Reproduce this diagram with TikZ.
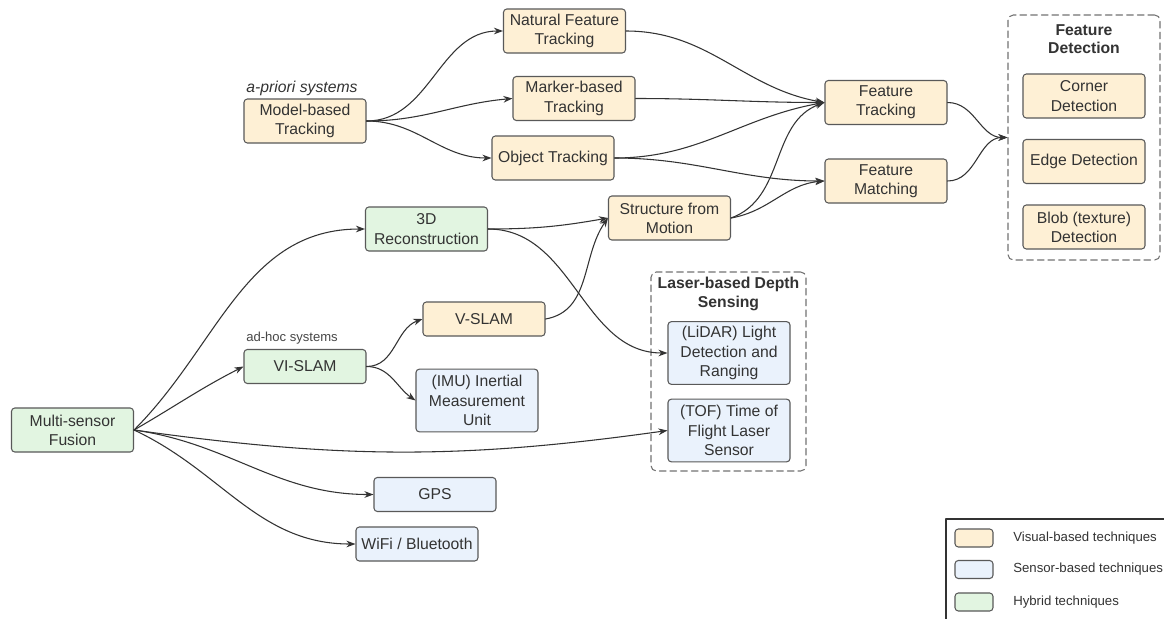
\documentclass[tikz,border=0pt]{standalone}
\usepackage{fontspec}
\setsansfont{Liberation Sans}
\usetikzlibrary{arrows.meta}

\definecolor{visfill}{HTML}{FEF0D5}
\definecolor{senfill}{HTML}{EAF2FC}
\definecolor{hybfill}{HTML}{E2F5E1}
\definecolor{boxline}{HTML}{595959}
\definecolor{inkgray}{HTML}{333333}

\begin{document}
\begin{tikzpicture}[
  x=0.75pt,
  y=-0.75pt,
  line cap=round,
  line join=round,
  >={Stealth[length=6.8,width=5]},
  box/.style={draw=boxline, line width=0.8, rounded corners=2.5, minimum width=91.5pt, minimum height=33pt, align=center, text=inkgray, font=\sffamily\fontsize{11.8}{14.4}\selectfont},
  visbox/.style={box, fill=visfill},
  senbox/.style={box, fill=senfill},
  hybbox/.style={box, fill=hybfill},
  low/.style={minimum height=25.5pt},
  tall/.style={minimum height=47pt},
  group/.style={draw=boxline!85, dash pattern=on 5pt off 3pt, line width=0.8, rounded corners=4},
  grouptitle/.style={font=\sffamily\bfseries\fontsize{11.8}{13.8}\selectfont, align=center, text=inkgray},
  note/.style={font=\sffamily\fontsize{11.8}{13}\selectfont, text=inkgray},
  link/.style={draw=inkgray, line width=0.8, ->},
  swatch/.style={draw=boxline, line width=0.8, rounded corners=2.5, minimum width=28.5pt, minimum height=13.5pt},
  legtext/.style={anchor=west, font=\sffamily\fontsize{9.9}{11}\selectfont, text=inkgray},
  every node/.style={inner sep=0}
]
\path[use as bounding box] (0,0) rectangle (1164,618);
\clip (0,0) rectangle (1164,618);
\fill[white] (0,0) rectangle (1164,618);

% Groups
\node[group, minimum width=114pt, minimum height=183.75pt] (fdet) at (1084,137.5) {};
\node[grouptitle] (fdettitle) at (1084,39) {Feature\\Detection};
\node[group, minimum width=116.25pt, minimum height=149.25pt] (laser) at (728.5,371.5) {};
\node[grouptitle] (lasertitle) at (728.5,294) {Laser-based Depth\\Sensing};

% Visual-based
\node[note, font=\sffamily\itshape\fontsize{11.8}{13}\selectfont] (apriori) at (302,88) {a-priori systems};
\node[visbox] (model) at (305,121) {Model-based\\Tracking};
\node[visbox] (natural) at (564.5,31) {Natural Feature\\Tracking};
\node[visbox] (marker) at (574,98.5) {Marker-based\\Tracking};
\node[visbox] (object) at (553,158) {Object Tracking};
\node[visbox] (ftrack) at (886,102.5) {Feature\\Tracking};
\node[visbox] (fmatch) at (886,181) {Feature\\Matching};
\node[visbox] (sfm) at (669.5,218) {Structure from\\Motion};
\node[visbox] (corner) at (1084,96) {Corner\\Detection};
\node[visbox] (edge) at (1084,161.5) {Edge Detection};
\node[visbox] (blob) at (1084,227) {Blob (texture)\\Detection};
\node[visbox, low] (vslam) at (484,319) {V-SLAM};

% Hybrid
\node[hybbox] (multi) at (72.5,430) {Multi-sensor\\Fusion};
\node[hybbox] (recon) at (426.5,229) {3D\\Reconstruction};
\node[note, font=\sffamily\fontsize{9.8}{11}\selectfont, text=inkgray!90] (adhoc) at (292,338) {ad-hoc systems};
\node[hybbox, low] (vislam) at (305,366.5) {VI-SLAM};

% Sensor-based
\node[senbox, tall] (imu) at (477,400.5) {(IMU) Inertial\\Measurement\\Unit};
\node[senbox, tall] (lidar) at (729,353) {(LiDAR) Light\\Detection and\\Ranging};
\node[senbox, tall] (tof) at (729,430.5) {(TOF) Time of\\Flight Laser\\Sensor};
\node[senbox, low] (gps) at (435,494.5) {GPS};
\node[senbox, low] (wifi) at (417,544) {WiFi / Bluetooth};

% Connections
\draw[link] (model.east) to[out=0,in=180] (natural.west);
\draw[link] (model.east) to[out=0,in=185] (marker.west);
\draw[link] (model.east) to[out=0,in=180] (object.west);

\draw[link] (natural.east) to[out=0,in=170] (ftrack.west);
\draw[link] (marker.east) to[out=0,in=180] (ftrack.west);
\draw[link] (object.east) to[out=0,in=190] (ftrack.west);
\draw[link] (object.east) to[out=0,in=180] (fmatch.west);
\draw[link] (sfm.east) to[out=20,in=200] (ftrack.west);
\draw[link] (sfm.east) to[out=10,in=185] (fmatch.west);
\draw[link] (ftrack.east) to[out=0,in=180] (fdet.west);
\draw[link] (fmatch.east) to[out=0,in=180] (fdet.west);

\draw[link] (multi.east) to[out=45,in=180] (recon.west);
\draw[link] (multi.east) to[out=30,in=207] (vislam.west);
\draw[link] (multi.east) to[out=-8,in=188] (tof.west);
\draw[link] (multi.east) to[out=-8,in=180] (gps.west);
\draw[link] (multi.east) to[out=-25,in=180] (wifi.west);

\draw[link] (vislam.east) to[out=0,in=200] (vslam.west);
\draw[link] (vislam.east) to[out=0,in=145] (imu.west);
\draw[link] (vslam.east) to[out=10,in=235] (sfm.west);
\draw[link] (recon.east) to[out=0,in=190] (sfm.west);
\draw[link] (recon.east) to[out=0,in=180] (lidar.west);

% Legend
\draw[draw=inkgray, line width=1] (946,519) rectangle (1190,640);
\node[swatch, fill=visfill] (swvis) at (974,538) {};
\node[legtext] (lgvis) at (1013,538) {Visual-based techniques};
\node[swatch, fill=senfill] (swsen) at (974,569.5) {};
\node[legtext] (lgsen) at (1013,569.5) {Sensor-based techniques};
\node[swatch, fill=hybfill] (swhyb) at (974,602) {};
\node[legtext] (lghyb) at (1013,602) {Hybrid techniques};

\end{tikzpicture}
\end{document}
